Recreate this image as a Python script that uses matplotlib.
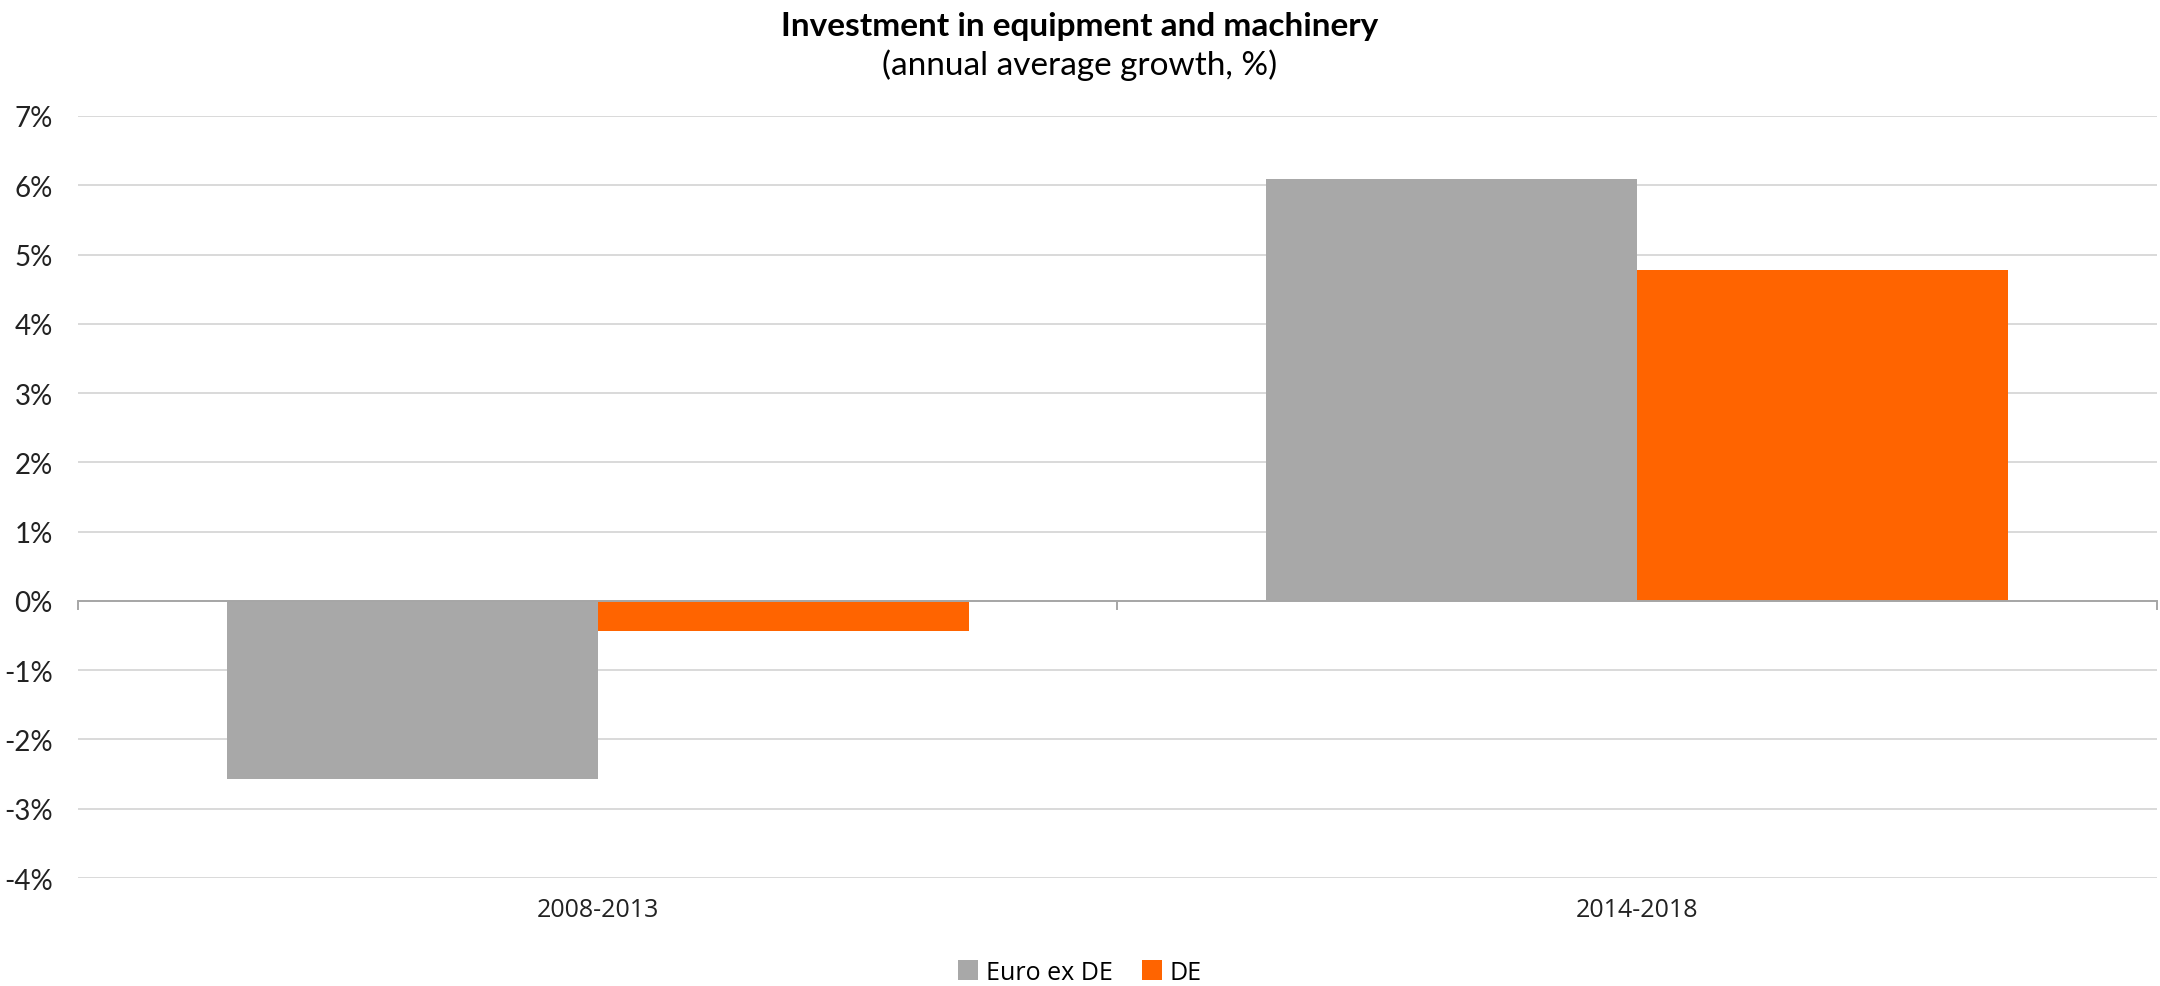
import matplotlib

matplotlib.use("Agg")
import matplotlib.pyplot as plt
import numpy as np

periods = ["2008-2013", "2014-2018"]
euro_ex_de = [-2.57, 6.09]
de = [-0.43, 4.77]
y_ticks = list(range(-4, 8))

GREY = "#a8a8a8"
ORANGE = "#ff6400"
GRID = "#d9d9d9"

plt.rcParams["font.family"] = ["Lato", "DejaVu Sans"]

fig = plt.figure(figsize=(21.6, 9.87), dpi=100)
ax = fig.add_axes([0.0361, 0.1094, 0.9625, 0.7721])

x = np.arange(len(periods))
width = 0.357
ax.bar(x - width, euro_ex_de, width, align="edge", color=GREY, label="Euro ex DE", zorder=3)
ax.bar(x, de, width, align="edge", color=ORANGE, label="DE", zorder=3)

ax.set_xlim(-0.5, len(periods) - 0.5)
ax.set_ylim(-4, 7)
ax.set_yticks(y_ticks)
ax.set_yticklabels([f"{t}%" for t in y_ticks], fontsize=20, color="#222222")
ax.yaxis.grid(True, color=GRID, linewidth=1.4, zorder=0)
ax.tick_params(axis="y", length=0, pad=18)

# category labels under the plot; boundary ticks hang off the zero line
ax.set_xticks(x)
ax.set_xticklabels(periods, fontsize=18, family=["Open Sans", "DejaVu Sans"], color="#222222")
ax.tick_params(axis="x", length=0, pad=14)
ax.axhline(0, color="#a6a6a6", linewidth=1.4, zorder=4)
for b in np.arange(-0.5, len(periods), 1.0):
    ax.plot([b, b], [0, -0.12], color="#a6a6a6", linewidth=1.4, zorder=4, clip_on=False)

for side in ("top", "right", "left", "bottom"):
    ax.spines[side].set_visible(False)

fig.text(0.5, 0.973, "Investment in equipment and machinery", ha="center", va="center",
         fontsize=24, fontweight="bold")
fig.text(0.5, 0.934, "(annual average growth, %)", ha="center", va="center", fontsize=24)

fig.legend(loc="center", bbox_to_anchor=(0.5, 0.014), ncol=2, frameon=False,
           prop={"family": ["Open Sans", "DejaVu Sans"], "size": 18},
           handlelength=0.8, handleheight=0.8, handletextpad=0.3, columnspacing=1.2)

fig.savefig("out.png", dpi=100)
